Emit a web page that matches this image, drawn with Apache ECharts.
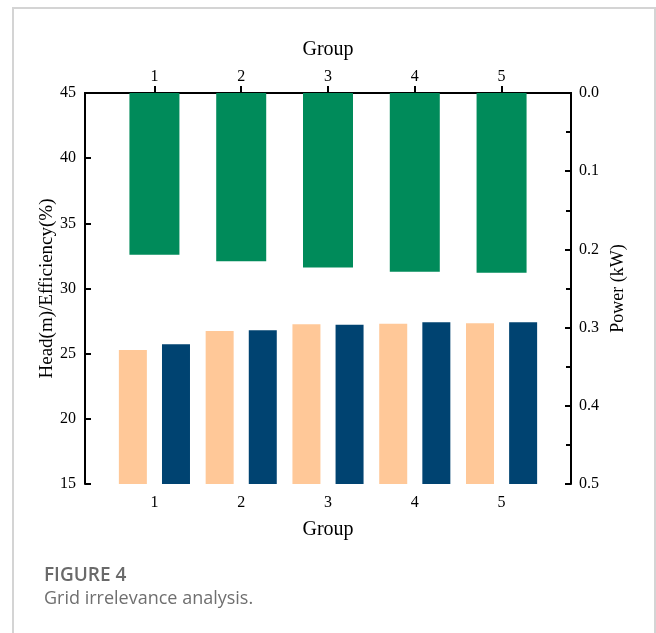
<!DOCTYPE html>
<html>
<head>
<meta charset="utf-8">
<style>
  html, body { margin: 0; padding: 0; background: #fff; }
  #chart { width: 656px; height: 633px; }
</style>
<script src="https://cdn.jsdelivr.net/npm/echarts@6/dist/echarts.min.js"></script>
</head>
<body>
<div id="chart"></div>
<script>
// Mesh groups compared in the grid study
const groups = [1, 2, 3, 4, 5];
// Head (m) and efficiency (%) per group, left axis
const headValues = [25.28, 26.74, 27.25, 27.30, 27.33];
const efficiencyValues = [25.72, 26.79, 27.22, 27.41, 27.41];
// Shaft power (kW) per group, right axis (inverted)
const powerValues = [0.207, 0.215, 0.223, 0.2285, 0.230];
// Axis ranges
const leftRange = [15, 45];
const rightRange = [0, 0.5];

const serif = '"Liberation Serif", "DejaVu Serif", serif';
const axisColor = '#000';

function pairs(vals) {
  return groups.map((g, i) => [g, vals[i]]);
}

const chart = echarts.init(document.getElementById('chart'));

const xAxisBase = {
  type: 'value',
  min: 0.2,
  max: 5.8,
  splitLine: { show: false },
  axisLine: { show: true, lineStyle: { color: axisColor, width: 2 } },
  axisTick: { show: true, inside: true, length: 7, customValues: groups,
              lineStyle: { color: axisColor, width: 2 } },
  axisLabel: { customValues: groups, color: '#000', fontFamily: serif, fontSize: 16 },
  name: 'Group',
  nameLocation: 'middle',
  nameMoveOverlap: false,
  nameTextStyle: { color: '#000', fontFamily: serif, fontSize: 20 }
};

chart.setOption({
  animation: false,
  backgroundColor: '#fff',
  grid: { left: 85, right: 85, top: 93, bottom: 149, containLabel: false },
  graphic: [
    {
      type: 'polyline',
      shape: { points: [[13, 640], [13, 8], [655, 8], [655, 640]] },
      style: { stroke: '#d4d4d4', lineWidth: 2, fill: null },
      silent: true
    },
    {
      type: 'text',
      left: 44, top: 566,
      style: { text: 'FIGURE 4', fill: '#6a6a6a', font: '600 19px "Open Sans", "Noto Sans", sans-serif' }
    },
    {
      type: 'text',
      left: 44, top: 590,
      style: { text: 'Grid irrelevance analysis.', fill: '#6f6f6f', font: '400 18px "Open Sans", "Noto Sans", sans-serif' }
    }
  ],
  xAxis: [
    Object.assign({}, xAxisBase, {
      position: 'bottom',
      nameGap: 36,
      axisLabel: Object.assign({}, xAxisBase.axisLabel, { margin: 11 })
    }),
    Object.assign({}, xAxisBase, {
      position: 'top',
      nameGap: 33,
      axisLabel: Object.assign({}, xAxisBase.axisLabel, { margin: 8 })
    })
  ],
  yAxis: [
    {
      type: 'value',
      position: 'left',
      min: leftRange[0],
      max: leftRange[1],
      interval: 5,
      splitLine: { show: false },
      axisLine: { show: true, lineStyle: { color: axisColor, width: 2 } },
      axisTick: { show: true, inside: true, length: 6, lineStyle: { color: axisColor, width: 2 } },
      axisLabel: { color: '#000', fontFamily: serif, fontSize: 16, margin: 9 },
      name: 'Head(m)/Efficiency(%)',
      nameLocation: 'middle',
      nameGap: 28,
      nameMoveOverlap: false,
      nameTextStyle: { color: '#000', fontFamily: serif, fontSize: 19 }
    },
    {
      type: 'value',
      position: 'right',
      inverse: true,
      min: rightRange[0],
      max: rightRange[1],
      interval: 0.1,
      splitLine: { show: false },
      axisLine: { show: true, lineStyle: { color: axisColor, width: 2 } },
      axisTick: { show: true, inside: true, length: 6, lineStyle: { color: axisColor, width: 2 } },
      minorTick: { show: true, splitNumber: 2, length: 5, lineStyle: { color: axisColor, width: 2 } },
      axisLabel: { color: '#000', fontFamily: serif, fontSize: 16, margin: 8,
                   formatter: v => v.toFixed(1) },
      name: 'Power (kW)',
      nameLocation: 'middle',
      nameGap: 38,
      nameMoveOverlap: false,
      nameTextStyle: { color: '#000', fontFamily: serif, fontSize: 18 }
    }
  ],
  series: [
    {
      name: 'Head',
      type: 'bar',
      xAxisIndex: 0,
      yAxisIndex: 0,
      barWidth: 28,
      barGap: '54%',
      itemStyle: { color: '#FFC898' },
      data: pairs(headValues)
    },
    {
      name: 'Efficiency',
      type: 'bar',
      xAxisIndex: 0,
      yAxisIndex: 0,
      barWidth: 28,
      barGap: '54%',
      itemStyle: { color: '#004371' },
      data: pairs(efficiencyValues)
    },
    {
      name: 'Power',
      type: 'bar',
      xAxisIndex: 1,
      yAxisIndex: 1,
      barWidth: 50,
      itemStyle: { color: '#008B5A' },
      data: pairs(powerValues)
    }
  ]
});
</script>
</body>
</html>
